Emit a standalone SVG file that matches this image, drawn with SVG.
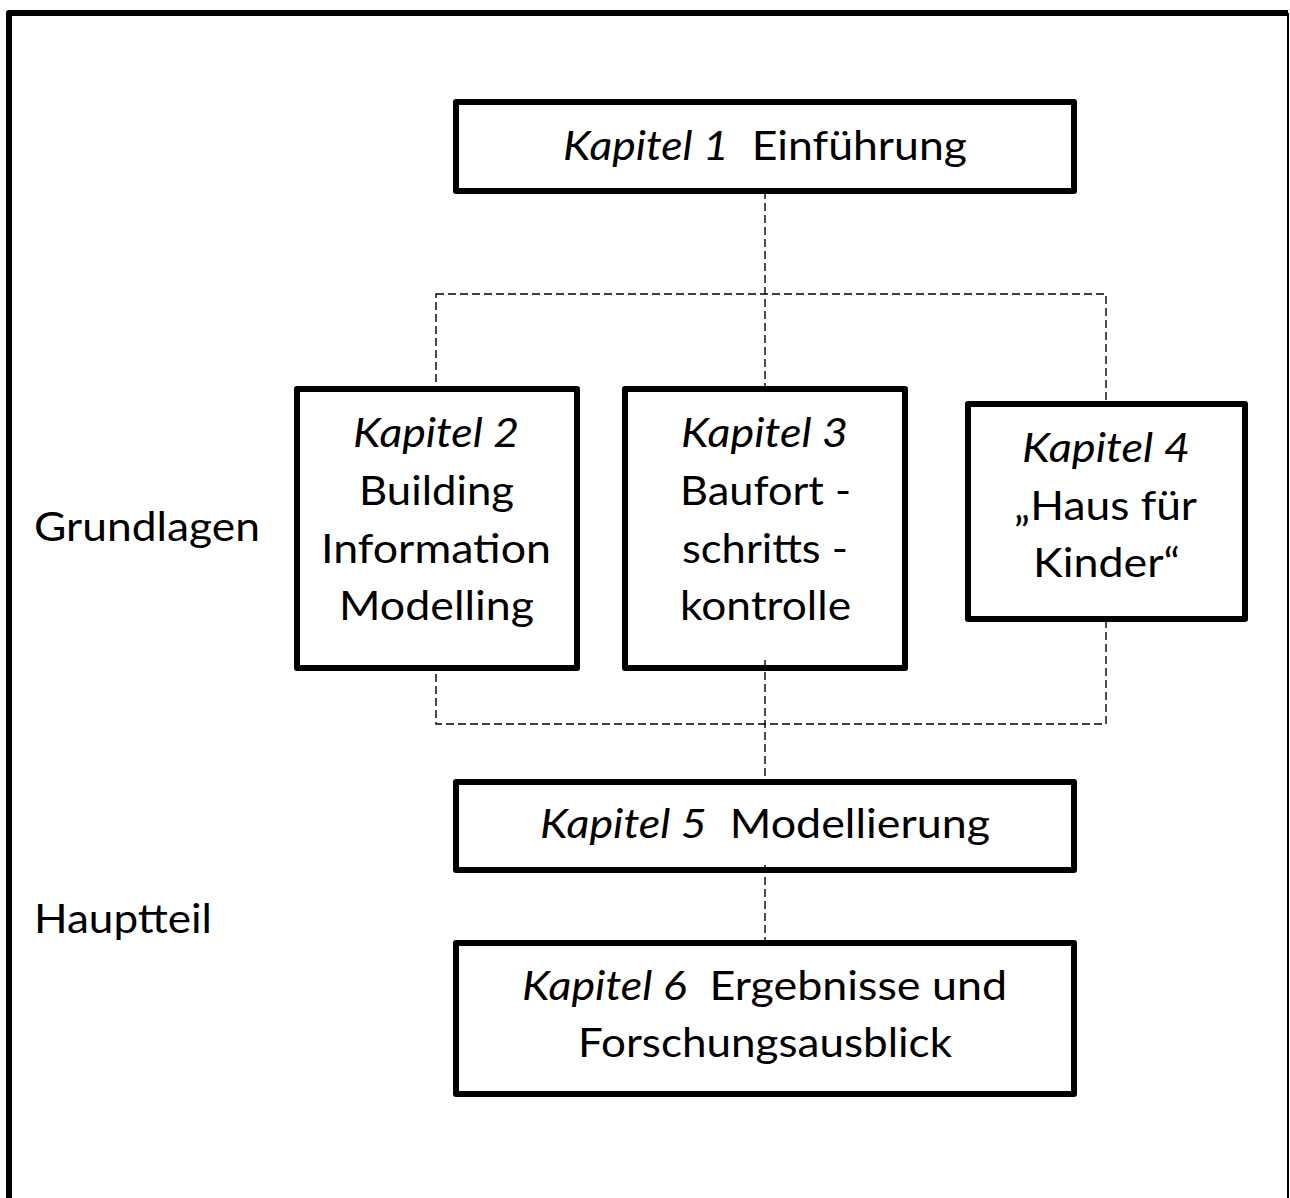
<svg xmlns="http://www.w3.org/2000/svg" width="1290" height="1198" viewBox="0 0 1290 1198">
<style>
.box{fill:#fff;stroke:#000;stroke-width:6;stroke-linejoin:round}
.dash{fill:none;stroke:#000;stroke-width:1.4;stroke-dasharray:8 4}
text{font-family:Lato,"Open Sans","Liberation Sans",sans-serif;font-size:41px;fill:#000;white-space:pre}
.i{font-style:italic}
</style>
<rect width="1290" height="1198" fill="#fff"/>
<g id="frame">
<path d="M9 1198 V13 H1288" fill="none" stroke="#000" stroke-width="6" stroke-linejoin="round"/>
<line x1="1288" y1="13" x2="1288" y2="1198" stroke="#000" stroke-width="2"/>
</g>
<g id="connectors">
<rect class="dash" x="436" y="294" width="670" height="430"/>
<line class="dash" x1="765" y1="191" x2="765" y2="389"/>
<line class="dash" x1="765" y1="660" x2="765" y2="781"/>
<line class="dash" x1="765" y1="865" x2="765" y2="942"/>
</g>
<g id="k1">
<rect class="box" x="456" y="102" width="618" height="89"/>
<text x="563" y="160" textLength="404" lengthAdjust="spacingAndGlyphs"><tspan class="i">Kapitel 1</tspan>  Einführung</text>
</g>
<g id="k2">
<rect class="box" x="297" y="389" width="280" height="279"/>
<text x="353" y="447" textLength="166" lengthAdjust="spacingAndGlyphs" class="i">Kapitel 2</text>
<text x="359" y="505" textLength="155" lengthAdjust="spacingAndGlyphs">Building</text>
<text x="321" y="563" textLength="230" lengthAdjust="spacingAndGlyphs">Information</text>
<text x="339" y="620" textLength="195" lengthAdjust="spacingAndGlyphs">Modelling</text>
</g>
<g id="k3">
<rect class="box" x="625" y="389" width="280" height="279"/>
<line class="dash" x1="765" y1="660" x2="765" y2="668"/>
<text x="681" y="447" textLength="167" lengthAdjust="spacingAndGlyphs" class="i">Kapitel 3</text>
<text x="680" y="505" textLength="171" lengthAdjust="spacingAndGlyphs">Baufort -</text>
<text x="682" y="563" textLength="166" lengthAdjust="spacingAndGlyphs">schritts -</text>
<text x="680" y="620" textLength="171" lengthAdjust="spacingAndGlyphs">kontrolle</text>
</g>
<g id="k4">
<rect class="box" x="968" y="404" width="277" height="215"/>
<text x="1022" y="462" textLength="168" lengthAdjust="spacingAndGlyphs" class="i">Kapitel 4</text>
<text x="1014" y="520" textLength="183" lengthAdjust="spacingAndGlyphs">„Haus für</text>
<text x="1033" y="577" textLength="147" lengthAdjust="spacingAndGlyphs">Kinder“</text>
</g>
<g id="k5">
<rect class="box" x="456" y="782" width="618" height="88"/>
<line class="dash" x1="765" y1="865" x2="765" y2="870"/>
<text x="540" y="838" textLength="450" lengthAdjust="spacingAndGlyphs"><tspan class="i">Kapitel 5</tspan>  Modellierung</text>
</g>
<g id="k6">
<rect class="box" x="456" y="943" width="618" height="151"/>
<text x="522" y="1000" textLength="485" lengthAdjust="spacingAndGlyphs"><tspan class="i">Kapitel 6</tspan>  Ergebnisse und</text>
<text x="578" y="1057" textLength="374" lengthAdjust="spacingAndGlyphs">Forschungsausblick</text>
</g>
<g id="labels">
<text x="34" y="541" textLength="226" lengthAdjust="spacingAndGlyphs">Grundlagen</text>
<text x="34" y="933" textLength="178" lengthAdjust="spacingAndGlyphs">Hauptteil</text>
</g>
</svg>
